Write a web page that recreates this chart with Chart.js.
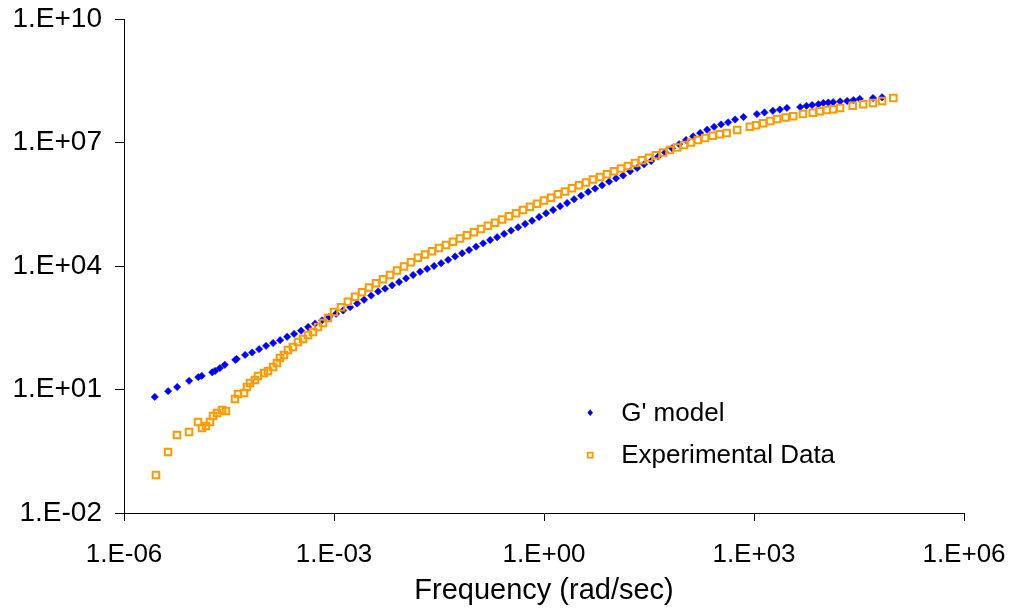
<!DOCTYPE html>
<html>
<head>
<meta charset="utf-8">
<script src="https://cdn.jsdelivr.net/npm/chart.js@4"></script>
<style>
  html, body { margin: 0; padding: 0; background: #fff; }
  #wrap { width: 1021px; height: 608px; }
</style>
</head>
<body>
<div id="wrap"><canvas id="modulus_chart"></canvas></div>
<script>
// G' model
const modelFreq = [
  2.75e-6, 4.27e-6, 5.75e-6, 8.51e-6, 1.15e-5, 1.29e-5, 1.82e-5, 2.00e-5, 2.34e-5, 2.75e-5, 3.89e-5, 4.07e-5,
  5.37e-5, 6.76e-5, 8.51e-5, 1.07e-4, 1.35e-4, 1.70e-4, 2.14e-4, 2.69e-4, 3.39e-4, 4.27e-4, 5.37e-4, 6.76e-4,
  8.51e-4, 1.07e-3, 1.35e-3, 1.70e-3, 2.14e-3, 2.69e-3, 3.39e-3, 4.27e-3, 5.37e-3, 6.76e-3, 8.51e-3, 1.07e-2,
  1.35e-2, 1.70e-2, 2.14e-2, 2.69e-2, 3.39e-2, 4.27e-2, 5.37e-2, 6.76e-2, 8.51e-2, 0.107, 0.135, 0.170,
  0.214, 0.269, 0.339, 0.427, 0.537, 0.676, 0.851, 1.07, 1.35, 1.70, 2.14, 2.69,
  3.39, 4.27, 5.37, 6.76, 8.51, 10.7, 13.5, 17.0, 21.4, 26.9, 33.9, 42.7,
  53.7, 67.6, 85.1, 107, 135, 170, 214, 269, 339, 427, 537, 708,
  1100, 1410, 1860, 2340, 2950, 4570, 5620, 6760, 8320, 9770, 11500, 13500,
  17000, 21400, 26300, 32400, 50100, 67600
];
const modelG = [
  6.61, 9.12, 11.5, 16.2, 20.0, 21.4, 26.3, 28.2, 33.1, 39.8, 52.5, 55.0,
  69.2, 79.4, 95.5, 115, 135, 158, 191, 224, 269, 331, 398, 479,
  575, 692, 832, 1000, 1230, 1510, 1910, 2400, 2820, 3390, 4070, 5010,
  6030, 7240, 8510, 10000, 11700, 14100, 17000, 20400, 24500, 29500, 35500, 42700,
  50100, 60300, 72400, 87100, 1.05e5, 1.26e5, 1.55e5, 1.91e5, 2.29e5, 2.82e5, 3.39e5, 4.17e5,
  5.13e5, 6.31e5, 7.59e5, 9.12e5, 1.12e6, 1.35e6, 1.58e6, 2.00e6, 2.40e6, 2.95e6, 3.55e6, 4.57e6,
  5.75e6, 7.24e6, 9.12e6, 1.15e7, 1.41e7, 1.70e7, 2.04e7, 2.40e7, 2.75e7, 3.09e7, 3.63e7, 4.17e7,
  4.90e7, 5.37e7, 5.89e7, 6.31e7, 6.92e7, 7.24e7, 7.76e7, 8.13e7, 8.51e7, 9.12e7, 9.33e7, 9.55e7,
  1.00e8, 1.02e8, 1.07e8, 1.15e8, 1.20e8, 1.26e8
];

// Experimental Data
const expFreq = [
  2.86e-6, 4.26e-6, 5.71e-6, 8.49e-6, 1.14e-5, 1.30e-5, 1.48e-5, 1.69e-5, 1.87e-5, 2.13e-5, 2.51e-5, 2.86e-5,
  3.85e-5, 4.26e-5, 5.18e-5, 5.71e-5, 6.31e-5, 7.43e-5, 8.20e-5, 1.00e-4, 1.14e-4, 1.35e-4, 1.53e-4, 1.69e-4,
  1.93e-4, 2.20e-4, 2.59e-4, 3.06e-4, 3.61e-4, 4.26e-4, 5.01e-4, 5.90e-4, 6.97e-4, 8.20e-4,
  1.00e-3, 1.26e-3, 1.58e-3, 2.00e-3, 2.51e-3, 3.16e-3, 3.98e-3, 5.01e-3, 6.31e-3, 7.94e-3,
  1.00e-2, 1.26e-2, 1.58e-2, 2.00e-2, 2.51e-2, 3.16e-2, 3.98e-2, 5.01e-2, 6.31e-2, 7.94e-2,
  0.100, 0.126, 0.158, 0.200, 0.251, 0.316, 0.398, 0.501, 0.631, 0.794,
  1.00, 1.26, 1.58, 2.00, 2.51, 3.16, 3.98, 5.01, 6.31, 7.94,
  10.0, 12.6, 15.8, 20.0, 25.1, 31.6, 39.8, 50.1, 63.1, 79.4,
  100, 126, 158, 200, 257, 324, 407, 575, 871, 1070, 1350, 1700, 2140, 2820, 3630,
  5010, 6920, 8710, 10960, 13500, 17000, 25700, 36300, 50100, 67600, 97700
];
const expG = [
  0.084, 0.303, 0.785, 0.927, 1.62, 1.16, 1.30, 1.62, 2.27, 2.69, 3.18, 3.01,
  5.87, 7.76, 8.22, 11.5, 14.4, 17.0, 21.3, 25.1, 28.1, 35.2, 44.0, 58.2,
  68.9, 91.0, 108, 142, 168, 210, 249, 330, 412, 545,
  759, 1000, 1350, 1780, 2290, 3020, 3800, 4790, 6030, 7760,
  9770, 12300, 15800, 19100, 22900, 27500, 32400, 38900, 46800, 56200,
  66100, 79400, 95500, 1.12e5, 1.35e5, 1.62e5, 1.91e5, 2.29e5, 2.75e5, 3.24e5,
  3.89e5, 4.57e5, 5.50e5, 6.46e5, 7.76e5, 9.12e5, 1.07e6, 1.26e6, 1.45e6, 1.70e6,
  2.00e6, 2.34e6, 2.69e6, 3.16e6, 3.72e6, 4.27e6, 4.90e6, 5.75e6, 6.61e6, 7.59e6,
  8.71e6, 1.00e7, 1.15e7, 1.29e7, 1.45e7, 1.58e7, 1.70e7, 2.00e7, 2.40e7, 2.63e7, 2.95e7, 3.31e7, 3.72e7, 4.07e7, 4.37e7,
  4.90e7, 5.25e7, 5.75e7, 6.17e7, 6.46e7, 6.92e7, 7.76e7, 8.51e7, 9.12e7, 1.02e8, 1.20e8
];

const xTicks = [1e-6, 1e-3, 1, 1e3, 1e6];
const yTicks = [1e-2, 1e1, 1e4, 1e7, 1e10];

const FONT = "'Liberation Sans', Arial, sans-serif";

function sciLabel(v) {
  const e = Math.round(Math.log10(v));
  return '1.E' + (e < 0 ? '-' : '+') + String(Math.abs(e)).padStart(2, '0');
}

function toPoints(xs, ys) {
  return xs.map((x, i) => ({ x: x, y: ys[i] }));
}

// legend sits inside the plot, like the Excel original
const insideLegend = {
  id: 'insideLegend',
  afterDraw(chart) {
    const ctx = chart.ctx;
    const area = chart.chartArea;
    const x0 = area.left + (area.right - area.left) * 0.555;
    const rows = [area.top + (area.bottom - area.top) * 0.797, area.top + (area.bottom - area.top) * 0.883];
    ctx.save();
    ctx.font = '26px ' + FONT;
    ctx.textBaseline = 'middle';
    chart.data.datasets.forEach((ds) => {
      const y = rows[ds.legendRow];
      ctx.beginPath();
      if (ds.pointStyle === 'rectRot') {
        ctx.moveTo(x0, y - 3.4);
        ctx.lineTo(x0 + 2.8, y);
        ctx.lineTo(x0, y + 3.4);
        ctx.lineTo(x0 - 2.8, y);
        ctx.closePath();
        ctx.fillStyle = ds.backgroundColor;
        ctx.fill();
      } else {
        ctx.rect(x0 - 2.5, y - 2.5, 5, 5);
        ctx.strokeStyle = ds.borderColor;
        ctx.lineWidth = 1.8;
        ctx.stroke();
      }
      ctx.fillStyle = '#000';
      ctx.fillText(ds.label, x0 + 31, y + 1);
    });
    ctx.restore();
  }
};

const ctx = document.getElementById('modulus_chart').getContext('2d');
const modulusChart = new Chart(ctx, {
  type: 'scatter',
  data: {
    datasets: [{
      label: "G' model",
      data: toPoints(modelFreq, modelG),
      pointStyle: 'rectRot',
      pointRadius: 3.7,
      backgroundColor: '#0000FF',
      borderColor: '#0000FF',
      borderWidth: 0.5,
      order: 1,
      legendRow: 0
    }, {
      label: 'Experimental Data',
      data: toPoints(expFreq, expG),
      pointStyle: 'rect',
      pointRadius: 4.6,
      backgroundColor: 'rgba(0,0,0,0)',
      borderColor: '#FF9900',
      borderWidth: 2,
      order: 0,
      legendRow: 1
    }]
  },
  options: {
    responsive: true,
    maintainAspectRatio: false,
    animation: false,
    layout: {
      padding: { top: 19, right: 57, left: 0, bottom: 0 }
    },
    plugins: {
      legend: { display: false },
      title: { display: false },
      tooltip: { enabled: false }
    },
    scales: {
      x: {
        type: 'logarithmic',
        min: 1e-6,
        max: 1e6,
        afterBuildTicks: (scale) => { scale.ticks = xTicks.map(v => ({ value: v })); },
        afterFit: (scale) => {
          scale.height = 95;
          scale.paddingLeft = 0;
          scale.paddingRight = 0;
        },
        ticks: {
          autoSkip: false,
          maxRotation: 0,
          padding: 18,
          color: '#000',
          font: { family: FONT, size: 26 },
          callback: (v) => sciLabel(v)
        },
        grid: {
          drawOnChartArea: false,
          drawTicks: true,
          tickLength: 8,
          color: '#000'
        },
        border: { display: true, color: '#000', width: 1 },
        title: {
          display: true,
          text: 'Frequency (rad/sec)',
          color: '#000',
          font: { family: FONT, size: 29 },
          padding: { top: 0, bottom: 0 }
        }
      },
      y: {
        type: 'logarithmic',
        min: 1e-2,
        max: 1e10,
        afterBuildTicks: (scale) => { scale.ticks = yTicks.map(v => ({ value: v })); },
        afterFit: (scale) => {
          scale.width = 124;
          scale.paddingTop = 0;
          scale.paddingBottom = 0;
        },
        ticks: {
          autoSkip: false,
          padding: 13,
          color: '#000',
          font: { family: FONT, size: 28 },
          callback: (v) => sciLabel(v)
        },
        grid: {
          drawOnChartArea: false,
          drawTicks: true,
          tickLength: 9,
          color: '#000'
        },
        border: { display: true, color: '#000', width: 1 }
      }
    }
  },
  plugins: [insideLegend]
});
</script>
</body>
</html>
